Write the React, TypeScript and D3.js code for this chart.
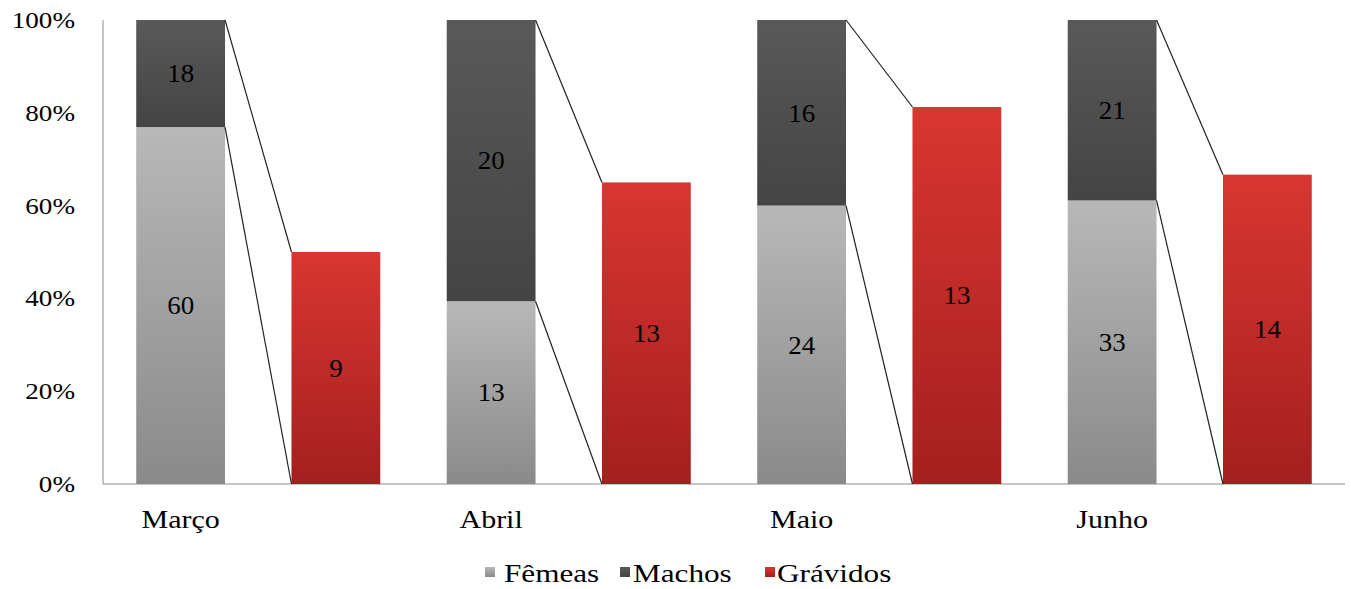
import React from "react";
import * as d3 from "d3";

const months = ["Março", "Abril", "Maio", "Junho"];
const femeas = [60, 13, 24, 33];
const machos = [18, 20, 16, 21];
const gravidos = [9, 13, 13, 14];
const yTicks = [0, 0.2, 0.4, 0.6, 0.8, 1];
const legendItems = ["Fêmeas", "Machos", "Grávidos"];

const W = 1351, H = 589;
const left = 103, right = 1345, top = 20, bottom = 484;
const FONT = "'Liberation Serif', 'DejaVu Serif', serif";

function Txt(props: { x: number; y: number; size: number; sx: number; anchor?: string; dy?: string; children: React.ReactNode }) {
  const { x, y, size, sx, anchor = "start", dy = "0", children } = props;
  return (
    <text
      transform={`translate(${x},${y}) scale(${sx},1)`}
      dy={dy}
      textAnchor={anchor}
      style={{ fontFamily: FONT, fontSize: size }}
      fill="#000"
    >
      {children}
    </text>
  );
}

export default function App() {
  const slots = months.flatMap((m) => [m + "-a", m + "-b"]);
  const x = d3.scaleBand<string>().domain(slots).range([left, right]).paddingInner(0.428).paddingOuter(0.214);
  const y = d3.scaleLinear().domain([0, 1]).range([bottom, top]);
  const bw = x.bandwidth();
  const fmt = d3.format(".0%");

  const legendX = [485, 620, 765];
  const legendTextX = [504, 633, 777];
  const legendFill = ["url(#gF)", "url(#gM)", "url(#gG)"];

  return (
    <svg width={W} height={H} style={{ position: "absolute", left: 0, top: 0, background: "#fff" }}>
      <defs>
        <linearGradient id="gF" x1="0" y1="0" x2="0" y2="1">
          <stop offset="0" stopColor="#b8b8b8" />
          <stop offset="1" stopColor="#8a8a8a" />
        </linearGradient>
        <linearGradient id="gM" x1="0" y1="0" x2="0" y2="1">
          <stop offset="0" stopColor="#595959" />
          <stop offset="1" stopColor="#444444" />
        </linearGradient>
        <linearGradient id="gG" x1="0" y1="0" x2="0" y2="1">
          <stop offset="0" stopColor="#d93631" />
          <stop offset="1" stopColor="#a41f1f" />
        </linearGradient>
      </defs>

      <line x1={left} x2={left} y1={top} y2={bottom} stroke="#8c8c8c" strokeWidth={1} />
      <line x1={left} x2={right} y1={bottom} y2={bottom} stroke="#8c8c8c" strokeWidth={1} />
      {yTicks.map((t) => (
        <Txt key={t} x={75} y={y(t)} dy="0.35em" anchor="end" size={23} sx={1.18}>
          {fmt(t)}
        </Txt>
      ))}

      {months.map((m, i) => {
        const total = femeas[i] + machos[i];
        const pf = femeas[i] / total;
        const pg = gravidos[i] / machos[i];
        const xa = x(m + "-a")!;
        const xb = x(m + "-b")!;
        return (
          <g key={m}>
            <rect x={xa} y={y(pf)} width={bw} height={y(0) - y(pf)} fill="url(#gF)" />
            <rect x={xa} y={y(1)} width={bw} height={y(pf) - y(1)} fill="url(#gM)" />
            <rect x={xb} y={y(pg)} width={bw} height={y(0) - y(pg)} fill="url(#gG)" />
            <line x1={xa + bw} y1={y(1)} x2={xb} y2={y(pg)} stroke="#222" strokeWidth={1.2} />
            <line x1={xa + bw} y1={y(pf)} x2={xb} y2={y(0)} stroke="#222" strokeWidth={1.2} />
            <Txt x={xa + bw / 2} y={(y(pf) + y(0)) / 2} dy="0.35em" anchor="middle" size={25} sx={1.08}>
              {femeas[i]}
            </Txt>
            <Txt x={xa + bw / 2} y={(y(pf) + y(1)) / 2} dy="0.35em" anchor="middle" size={25} sx={1.08}>
              {machos[i]}
            </Txt>
            <Txt x={xb + bw / 2} y={(y(pg) + y(0)) / 2} dy="0.35em" anchor="middle" size={25} sx={1.08}>
              {gravidos[i]}
            </Txt>
            <Txt x={xa + bw / 2} y={528} anchor="middle" size={25} sx={1.2}>
              {m}
            </Txt>
          </g>
        );
      })}

      {legendItems.map((l, i) => (
        <g key={l}>
          <rect x={legendX[i]} y={567} width={10} height={10} fill={legendFill[i]} />
          <Txt x={legendTextX[i]} y={582} size={26} sx={1.2}>
            {l}
          </Txt>
        </g>
      ))}
    </svg>
  );
}
